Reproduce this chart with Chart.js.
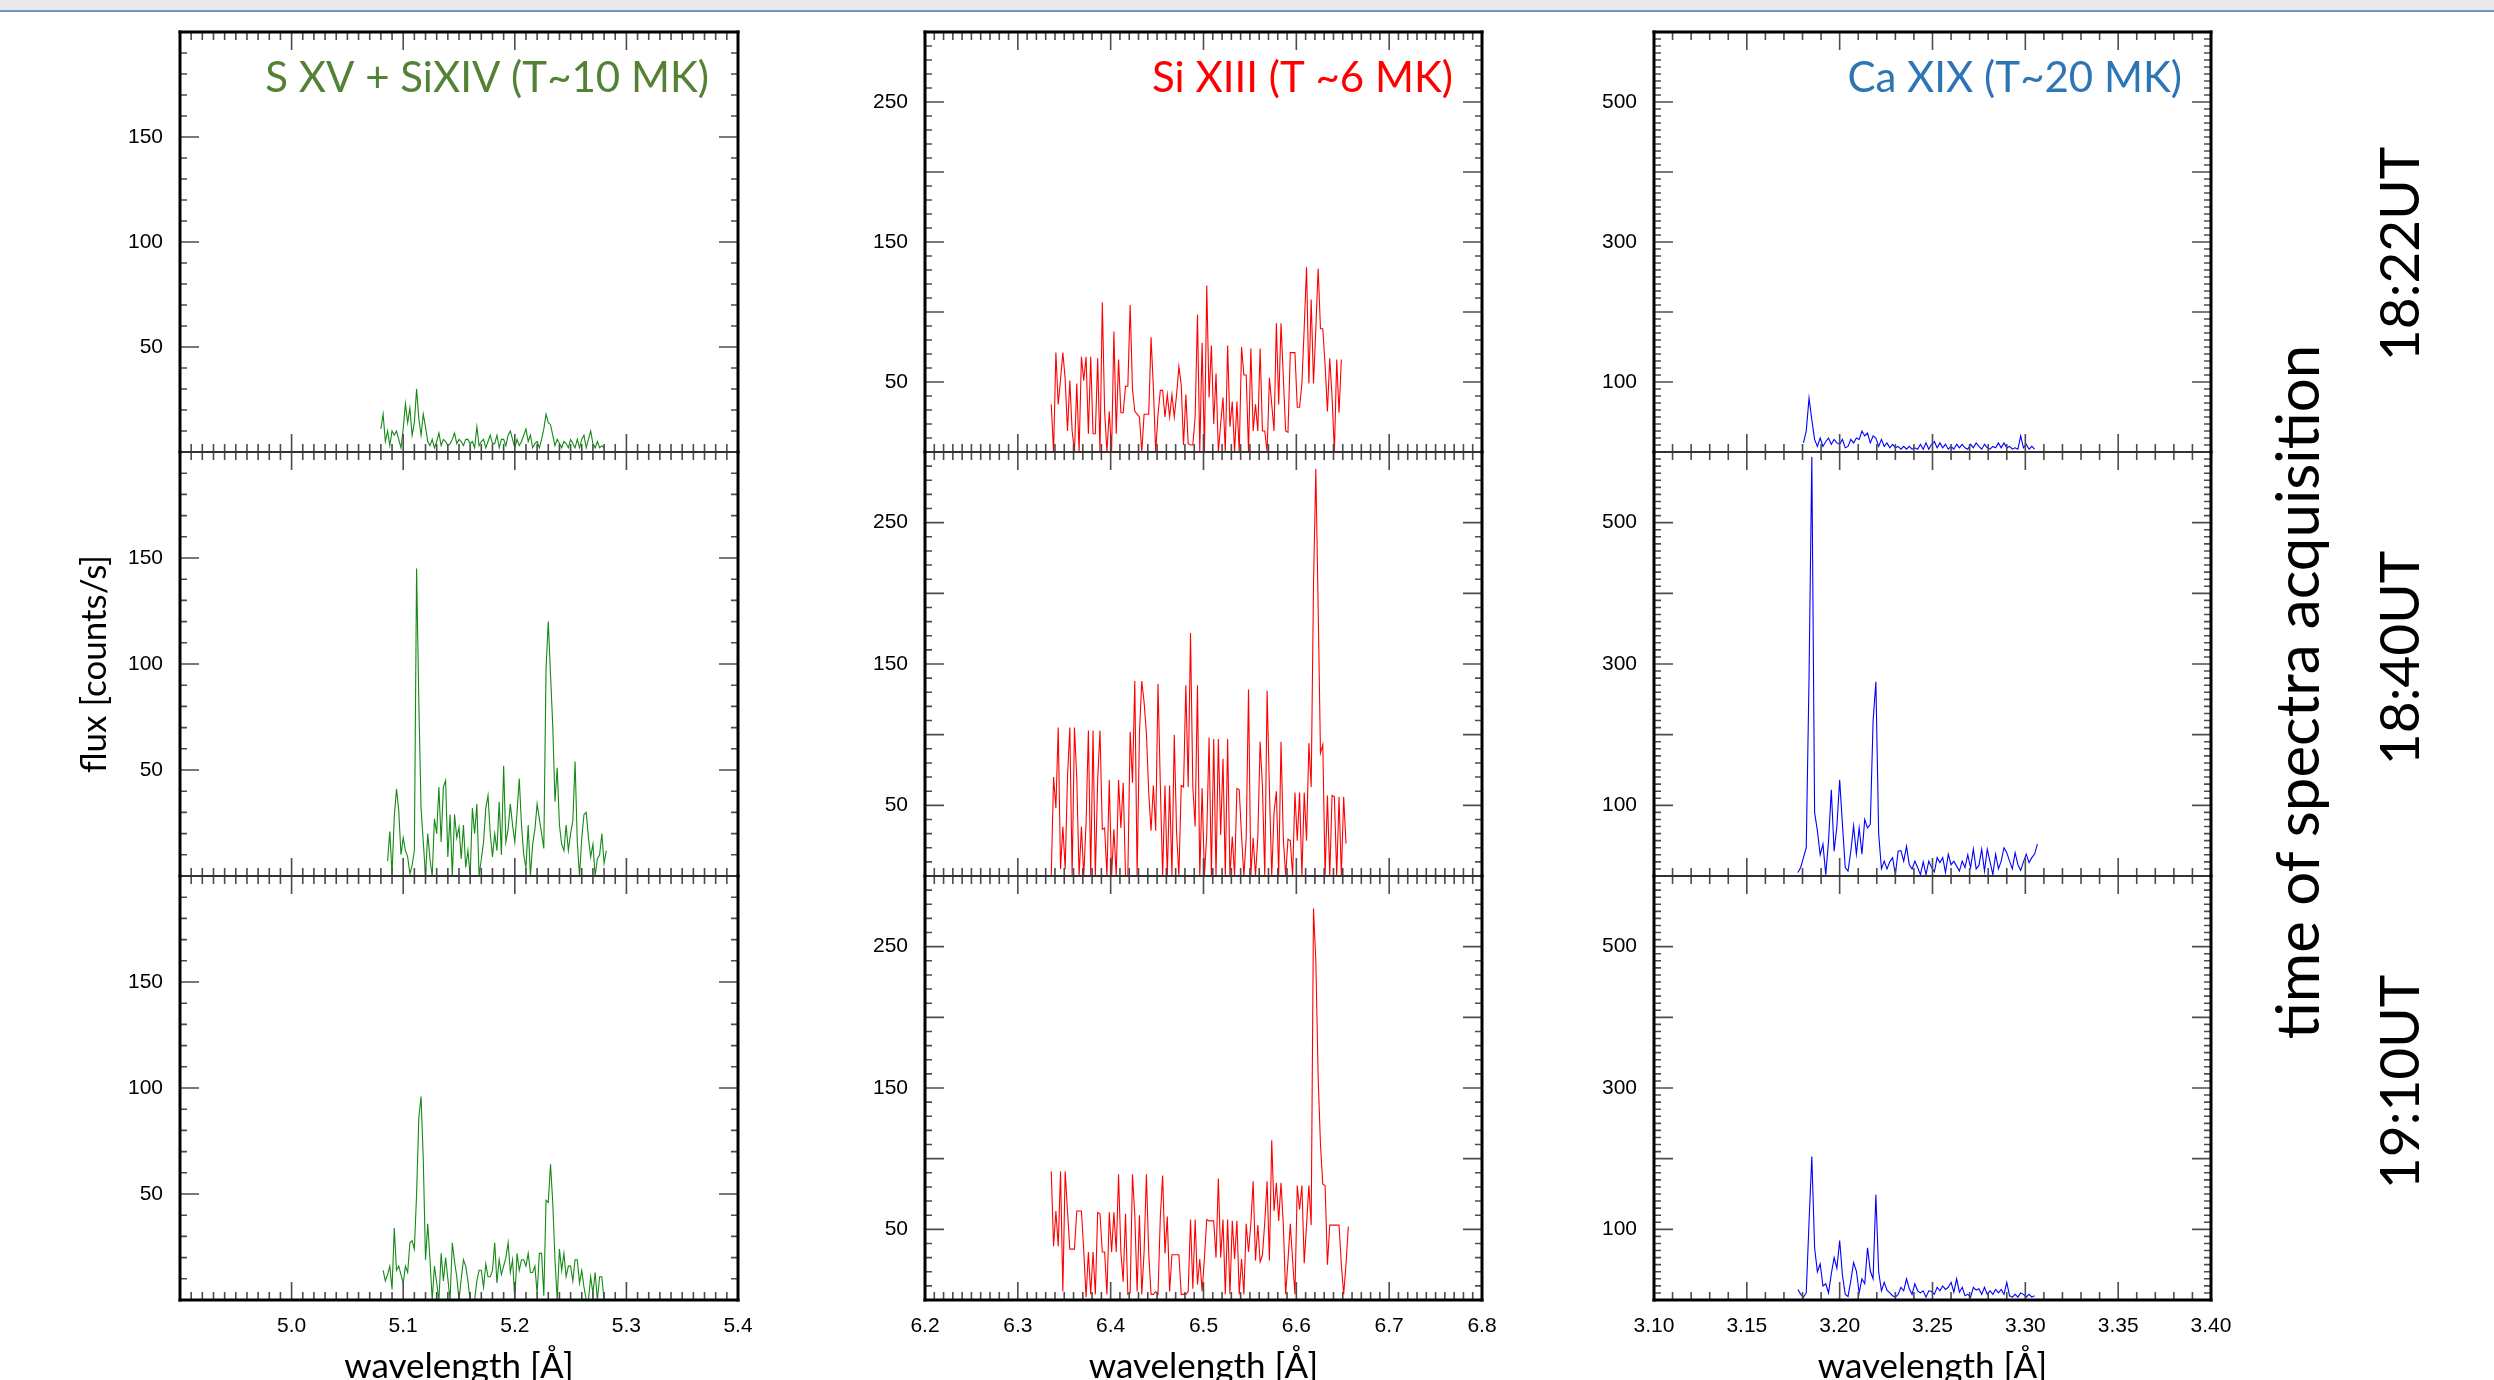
<!DOCTYPE html>
<html>
<head>
<meta charset="utf-8">
<script src="https://cdn.jsdelivr.net/npm/chart.js@4.4.1/dist/chart.umd.min.js"></script>
<style>
html, body { margin:0; padding:0; background:#ffffff; }
body { width:2494px; height:1380px; position:relative; overflow:hidden; }
canvas { position:absolute; }
.side { position:absolute; font-family:Lato, 'Open Sans', sans-serif; color:#000; white-space:nowrap; line-height:1; transform:translate(-50%,-50%) rotate(-90deg); }
</style>
</head>
<body>
<div style="position:absolute;left:0;top:0;width:2494px;height:10px;background:#e9e9e9"></div>
<div style="position:absolute;left:0;top:10px;width:2494px;height:2px;background:#7397c2"></div>

<div class="side" id="lblTime" style="left:2296px;top:692px;font-size:60px;">time of spectra acquisition</div>
<div class="side" id="lbl1822" style="left:2398px;top:254px;font-size:55px;">18:22UT</div>
<div class="side" id="lbl1840" style="left:2398px;top:658px;font-size:55px;">18:40UT</div>
<div class="side" id="lbl1910" style="left:2398px;top:1082px;font-size:55px;">19:10UT</div>

<script>
// ---------------- DATA ----------------
// S XV + Si XIV column: wavelengths [Å]
const wlSXV = [
5.080,5.082,5.084,5.086,5.088,5.090,5.092,5.094,5.096,5.098,
5.100,5.102,5.104,5.106,5.108,5.110,5.112,5.114,5.116,5.118,
5.120,5.122,5.124,5.126,5.128,5.130,5.132,5.134,5.136,5.138,
5.140,5.142,5.144,5.146,5.148,5.150,5.152,5.154,5.156,5.158,
5.160,5.162,5.164,5.166,5.168,5.170,5.172,5.174,5.176,5.178,
5.180,5.182,5.184,5.186,5.188,5.190,5.192,5.194,5.196,5.198,
5.200,5.202,5.204,5.206,5.208,5.210,5.212,5.214,5.216,5.218,
5.220,5.222,5.224,5.226,5.228,5.230,5.232,5.234,5.236,5.238,
5.240,5.242,5.244,5.246,5.248,5.250,5.252,5.254,5.256,5.258,
5.260,5.262,5.264,5.266,5.268,5.270,5.272,5.274,5.276,5.278,
5.280,5.282,5.284];
const fluxSXV_1822 = [
11,18,5,10,3,10,8,10,6,2,
11,23,14,21,8,14,30,16,8,18,
12,5,3,6,2,5,9,3,6,5,
3,4,6,9,4,6,5,3,6,6,
4,5,2,12,3,5,6,2,5,8,
4,4,8,2,6,6,3,8,10,6,
2,6,3,5,8,11,5,8,2,4,
5,2,6,11,18,14,13,8,3,6,
4,2,5,4,2,6,4,2,6,2,
6,8,2,6,10,4,2,5,2,3,
2,null,null];
const fluxSXV_1840 = [
null,null,null,7,21,1,28,41,31,10,
18,12,9,1,5,12,145,82,32,16,
0,20,8,0,27,20,42,16,42,45,
9,29,0,29,18,23,8,24,4,12,
0,32,20,34,0,8,16,32,38,20,
9,20,12,35,10,52,16,22,34,24,
16,30,46,24,10,4,24,0,15,22,
34,27,20,13,98,120,95,71,35,51,
24,15,12,24,12,20,26,54,16,0,
18,29,30,18,9,15,0,8,10,20,
6,12,null];
const fluxSXV_1910 = [
null,14,9,12,16,5,34,14,16,12,
8,16,13,27,28,24,50,86,96,66,
19,36,19,0,16,8,0,22,9,20,
10,0,27,18,11,0,10,19,16,9,
0,0,0,9,14,14,6,17,11,11,
14,27,8,19,12,16,20,27,13,19,
0,22,14,19,19,16,22,13,13,16,
3,22,22,2,47,46,64,46,19,0,
24,14,22,11,16,16,9,19,19,8,
14,6,0,0,11,3,13,0,11,11,
0,null,null];

// Si XIII column
const wlSiXIII = [
6.3360,6.3385,6.3410,6.3435,6.3460,6.3485,6.3510,6.3535,6.3560,6.3585,
6.3610,6.3635,6.3660,6.3685,6.3710,6.3735,6.3760,6.3785,6.3810,6.3835,
6.3860,6.3885,6.3910,6.3935,6.3960,6.3985,6.4010,6.4035,6.4060,6.4085,
6.4110,6.4135,6.4160,6.4185,6.4210,6.4235,6.4260,6.4285,6.4310,6.4335,
6.4360,6.4385,6.4410,6.4435,6.4460,6.4485,6.4510,6.4535,6.4560,6.4585,
6.4610,6.4635,6.4660,6.4685,6.4710,6.4735,6.4760,6.4785,6.4810,6.4835,
6.4860,6.4885,6.4910,6.4935,6.4960,6.4985,6.5010,6.5035,6.5060,6.5085,
6.5110,6.5135,6.5160,6.5185,6.5210,6.5235,6.5260,6.5285,6.5310,6.5335,
6.5360,6.5385,6.5410,6.5435,6.5460,6.5485,6.5510,6.5535,6.5560,6.5585,
6.5610,6.5635,6.5660,6.5685,6.5710,6.5735,6.5760,6.5785,6.5810,6.5835,
6.5860,6.5885,6.5910,6.5935,6.5960,6.5985,6.6010,6.6035,6.6060,6.6085,
6.6110,6.6135,6.6160,6.6185,6.6210,6.6235,6.6260,6.6285,6.6310,6.6335,
6.6360,6.6385,6.6410,6.6435,6.6460,6.6485,6.6510,6.6535,6.6560];
const fluxSiXIII_1822 = [
34,0,71,34,52,71,52,15,51,15,
0,49,0,68,51,68,13,68,13,13,
67,0,107,29,0,29,0,86,13,66,
28,28,47,47,105,45,29,27,25,0,
27,27,27,82,46,0,27,44,44,25,
41,25,41,25,41,61,48,5,41,6,
5,5,25,98,0,78,0,119,39,76,
20,56,0,20,39,0,76,18,36,0,
36,0,75,55,55,0,74,15,34,15,
74,15,15,0,53,34,15,92,34,92,
53,15,14,71,71,71,32,32,49,89,
132,49,109,49,88,131,88,88,62,29,
67,39,0,66,28,66,null,null,null];
const fluxSiXIII_1840 = [
0,70,48,105,5,35,5,70,105,0,
105,69,0,35,0,37,103,0,103,0,
68,103,33,34,0,68,0,33,0,68,
34,66,0,0,102,66,138,0,101,138,
123,101,59,32,64,32,136,64,0,64,
0,64,0,100,31,0,64,63,135,63,
172,63,35,135,0,62,0,29,98,0,
97,0,97,29,83,0,97,0,28,0,
62,61,28,0,27,132,0,27,0,27,
95,63,0,131,61,0,45,60,0,95,
26,0,26,25,0,59,25,59,0,59,
25,94,63,206,288,190,87,93,0,57,
0,57,56,0,56,0,56,23,null];
const fluxSiXIII_1910 = [
91,38,63,38,91,6,91,63,36,36,
36,63,63,63,35,2,34,4,34,4,
62,61,34,34,4,62,34,62,34,89,
34,13,61,4,5,89,60,6,60,4,
34,89,33,4,4,6,4,59,88,33,
59,6,32,32,32,32,4,4,4,6,
57,8,57,11,29,6,30,57,56,56,
56,30,86,30,57,4,57,4,56,29,
56,4,29,4,54,34,54,84,28,53,
27,32,55,84,28,113,63,83,56,83,
53,4,28,54,28,4,81,64,81,26,
53,81,53,277,240,158,110,82,81,25,
53,53,53,53,53,25,4,25,52];

// Ca XIX column
const wlCaXIX = [
3.1775,3.1790,3.1805,3.1820,3.1835,3.1850,3.1865,3.1880,3.1895,3.1910,
3.1925,3.1940,3.1955,3.1970,3.1985,3.2000,3.2015,3.2030,3.2045,3.2060,
3.2075,3.2090,3.2105,3.2120,3.2135,3.2150,3.2165,3.2180,3.2195,3.2210,
3.2225,3.2240,3.2255,3.2270,3.2285,3.2300,3.2315,3.2330,3.2345,3.2360,
3.2375,3.2390,3.2405,3.2420,3.2435,3.2450,3.2465,3.2480,3.2495,3.2510,
3.2525,3.2540,3.2555,3.2570,3.2585,3.2600,3.2615,3.2630,3.2645,3.2660,
3.2675,3.2690,3.2705,3.2720,3.2735,3.2750,3.2765,3.2780,3.2795,3.2810,
3.2825,3.2840,3.2855,3.2870,3.2885,3.2900,3.2915,3.2930,3.2945,3.2960,
3.2975,3.2990,3.3005,3.3020,3.3035,3.3050,3.3065,3.3080,3.3095,3.3110];
const fluxCaXIX_1822 = [
null,null,13,30,77,46,18,8,20,8,
15,20,11,18,13,11,18,6,8,18,
13,20,18,30,23,27,13,23,20,8,
18,8,13,6,11,6,8,4,8,4,
8,4,6,4,11,4,13,4,11,15,
6,13,6,11,4,8,4,11,6,11,
6,4,11,6,13,8,4,11,6,4,
8,6,13,6,13,6,8,4,6,4,
23,6,11,4,8,4,null,null,null,null];
const fluxCaXIX_1840 = [
5,12,26,40,280,593,90,64,30,45,
2,49,122,35,70,136,73,12,7,35,
71,31,68,31,80,68,73,219,275,60,
10,21,10,20,26,2,35,36,21,42,
16,10,21,12,2,20,2,21,12,6,
26,19,26,5,31,16,21,14,7,21,
12,30,12,38,10,15,38,7,38,20,
2,31,10,21,40,33,21,10,33,16,
8,20,31,19,26,31,45,null,null,null];
const fluxCaXIX_1910 = [
15,8,4,10,110,203,74,40,51,20,
23,10,37,60,45,84,35,8,5,27,
53,41,10,30,23,74,41,30,149,40,
13,25,14,10,6,4,8,18,13,30,
16,8,23,13,10,13,4,13,12,8,
18,13,20,15,18,25,11,30,11,18,
6,8,4,18,14,16,8,18,8,13,
8,15,10,15,8,25,6,4,8,4,
10,8,4,8,4,6,null,null,null,null];

// tick labels
const xTicksSXV = [5.0, 5.1, 5.2, 5.3, 5.4];
const xTicksSiXIII = [6.2, 6.3, 6.4, 6.5, 6.6, 6.7, 6.8];
const xTicksCaXIX = [3.10, 3.15, 3.20, 3.25, 3.30, 3.35, 3.40];
const yTicksSXV = [50, 100, 150];
const yTicksSiXIII = [50, 150, 250];
const yTicksCaXIX = [100, 300, 500];

const panelTitles = ['S XV + SiXIV (T~10 MK)', 'Si XIII (T ~6 MK)', 'Ca XIX (T~20 MK)'];
const xAxisTitle = 'wavelength [Å]';
const yAxisTitle = 'flux [counts/s]';

// ---------------- LAYOUT / STYLE ----------------
const wavelengths = [wlSXV, wlSiXIII, wlCaXIX];
const fluxes = [
  [fluxSXV_1822, fluxSiXIII_1822, fluxCaXIX_1822],
  [fluxSXV_1840, fluxSiXIII_1840, fluxCaXIX_1840],
  [fluxSXV_1910, fluxSiXIII_1910, fluxCaXIX_1910]
];
const xTickSets = [xTicksSXV, xTicksSiXIII, xTicksCaXIX];
const yTickSets = [yTicksSXV, yTicksSiXIII, yTicksCaXIX];
const xDecimals = [1, 1, 2];
const lineColors = ['#138a13', '#ff0000', '#0000ff'];
const titleColors = ['#548235', '#ff0000', '#2e75b6'];
const colLayout = [ {left:180, right:738}, {left:925, right:1482}, {left:1654, right:2211} ];
const rowLayout = [ {top:32, bottom:452}, {top:452, bottom:876}, {top:876, bottom:1300} ];
const colScale = [
  {xMin:4.9, xMax:5.4, xStep:0.01, xN:50, xMajor:10, yMax:200, yStep:10, yN:20, yMajor:5},
  {xMin:6.2, xMax:6.8, xStep:0.01, xN:60, xMajor:10, yMax:300, yStep:10, yN:30, yMajor:5},
  {xMin:3.1, xMax:3.4, xStep:0.01, xN:30, xMajor:5,  yMax:600, yStep:10, yN:60, yMajor:10}
];

Chart.defaults.font.family = "'Liberation Sans', Arial, sans-serif";
Chart.defaults.color = '#000';

const frameTicks = {
  id: 'frameTicks',
  afterDraw(chart, args, o) {
    const {ctx, chartArea: a, scales: {x, y}} = chart;
    ctx.save();
    ctx.strokeStyle = '#4d4d4d';
    ctx.lineWidth = 1.6;
    ctx.beginPath();
    for (let i = 1; i < o.xN; i++) {
      const px = x.getPixelForValue(o.xMin + i * o.xStep);
      const len = (i % o.xMajor === 0) ? 18 : 8;
      ctx.moveTo(px, a.bottom); ctx.lineTo(px, a.bottom - len);
      ctx.moveTo(px, a.top); ctx.lineTo(px, a.top + len);
    }
    for (let i = 1; i < o.yN; i++) {
      const py = y.getPixelForValue(i * o.yStep);
      const len = (i % o.yMajor === 0) ? 19 : 7;
      ctx.moveTo(a.left, py); ctx.lineTo(a.left + len, py);
      ctx.moveTo(a.right, py); ctx.lineTo(a.right - len, py);
    }
    ctx.stroke();
    // frame
    ctx.lineCap = 'square';
    const seg = (x1, y1, x2, y2, w, c) => { ctx.beginPath(); ctx.lineWidth = w; ctx.strokeStyle = c; ctx.moveTo(x1, y1); ctx.lineTo(x2, y2); ctx.stroke(); };
    seg(a.left, a.top, a.right, a.top, o.row === 0 ? 3 : 2, o.row === 0 ? '#000' : '#333');
    seg(a.left, a.bottom, a.right, a.bottom, o.row === 2 ? 3 : 2, o.row === 2 ? '#000' : '#333');
    seg(a.left, a.top, a.left, a.bottom, 3, '#000');
    seg(a.right, a.top, a.right, a.bottom, 3, '#000');
    if (o.title) {
      ctx.font = "42px Lato, 'Open Sans', sans-serif";
      ctx.fillStyle = o.titleColor;
      ctx.textAlign = 'right';
      ctx.textBaseline = 'alphabetic';
      ctx.fillText(o.title, a.right - 29, a.top + 60);
    }
    ctx.restore();
  }
};

const noScalePadding = s => { s.paddingLeft = 0; s.paddingRight = 0; s.paddingTop = 0; s.paddingBottom = 0; };

function makePanel(r, c) {
  const C = colLayout[c], R = rowLayout[r], S = colScale[c];
  const isBottom = r === 2;
  const yw = c === 0 ? 110 : 90, padT = 6, padR = 34;
  const padB = isBottom ? 0 : 6, xh = isBottom ? 88 : 0;
  const plotW = C.right - C.left, plotH = R.bottom - R.top;
  const W = yw + plotW + padR, H = padT + plotH + xh + padB;
  const cv = document.createElement('canvas');
  cv.width = W; cv.height = H;
  cv.style.left = (C.left - yw) + 'px';
  cv.style.top = (R.top - padT) + 'px';
  cv.style.width = W + 'px';
  cv.style.height = H + 'px';
  document.body.appendChild(cv);
  const wl = wavelengths[c], fl = fluxes[r][c];
  new Chart(cv, {
    type: 'line',
    data: { datasets: [{
      data: wl.map((v, i) => ({x: v, y: fl[i]})),
      borderColor: lineColors[c], borderWidth: 1.1, pointRadius: 0,
      tension: 0, fill: false, spanGaps: false
    }]},
    options: {
      responsive: false, animation: false, devicePixelRatio: 1,
      layout: { autoPadding: false, padding: {left: 0, top: padT, right: padR, bottom: padB} },
      plugins: {
        legend: {display: false}, tooltip: {enabled: false},
        frameTicks: Object.assign({row: r, title: r === 0 ? panelTitles[c] : null, titleColor: titleColors[c]}, S)
      },
      scales: {
        x: {
          type: 'linear', min: S.xMin, max: S.xMax, display: isBottom,
          grid: {display: false, drawTicks: false}, border: {display: false},
          afterBuildTicks: s => { s.ticks = xTickSets[c].map(v => ({value: v})); },
          afterFit: s => { s.height = xh; noScalePadding(s); },
          ticks: {padding: 14, font: {size: 21}, color: '#000', maxRotation: 0, autoSkip: false,
                  callback: v => Number(v).toFixed(xDecimals[c])},
          title: {display: isBottom, text: xAxisTitle, font: {family: "Lato, 'Open Sans', sans-serif", size: 35},
                  color: '#000', padding: {top: 0, bottom: 0}}
        },
        y: {
          type: 'linear', min: 0, max: S.yMax,
          grid: {display: false, drawTicks: false}, border: {display: false},
          afterBuildTicks: s => { s.ticks = yTickSets[c].map(v => ({value: v})); },
          afterFit: s => { s.width = yw; noScalePadding(s); },
          ticks: {padding: 17, font: {size: 21}, color: '#000', autoSkip: false, callback: v => String(v)},
          title: {display: r === 1 && c === 0, text: yAxisTitle, font: {family: "Lato, 'Open Sans', sans-serif", size: 35},
                  color: '#000', padding: {top: 4, bottom: 0}}
        }
      }
    },
    plugins: [frameTicks]
  });
}

for (let r = 0; r < 3; r++) for (let c = 0; c < 3; c++) makePanel(r, c);
</script>
</body>
</html>
